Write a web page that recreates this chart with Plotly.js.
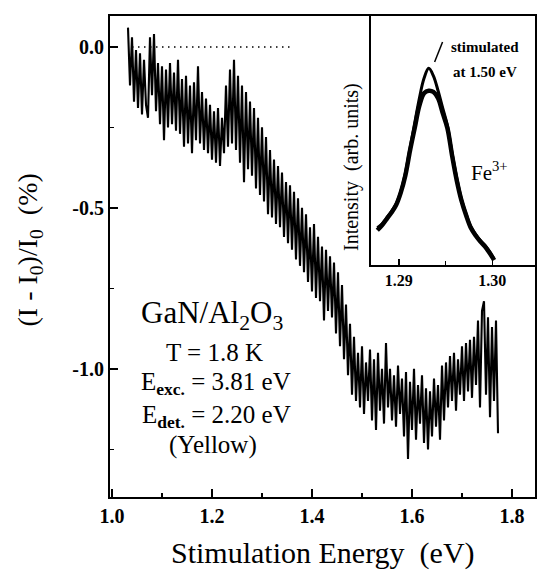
<!DOCTYPE html>
<html>
<head>
<meta charset="utf-8">
<script src="https://cdn.plot.ly/plotly-3.0.1.min.js"></script>
<style>html,body{margin:0;padding:0;background:#fff;}#chart{width:537px;height:575px;}</style>
</head>
<body>
<div id="chart"></div>
<script>
// Main trace: stimulation energy (eV) vs (I - I0)/I0 (%)
const stimEnergy = [
  1.032,1.036,1.040,1.044,1.048,1.052,1.056,1.060,1.064,1.068,
  1.072,1.076,1.080,1.084,1.088,1.092,1.096,1.100,1.104,1.108,
  1.112,1.116,1.120,1.124,1.128,1.132,1.136,1.140,1.144,1.148,
  1.152,1.156,1.160,1.164,1.168,1.172,1.176,1.180,1.184,1.188,
  1.192,1.196,1.200,1.204,1.208,1.212,1.216,1.220,1.224,1.228,
  1.232,1.236,1.240,1.244,1.248,1.252,1.256,1.260,1.264,1.268,
  1.272,1.276,1.280,1.284,1.288,1.292,1.296,1.300,1.304,1.308,
  1.312,1.316,1.320,1.324,1.328,1.332,1.336,1.340,1.344,1.348,
  1.352,1.356,1.360,1.364,1.368,1.372,1.376,1.380,1.384,1.388,
  1.392,1.396,1.400,1.404,1.408,1.412,1.416,1.420,1.424,1.428,
  1.432,1.436,1.440,1.444,1.448,1.452,1.456,1.460,1.464,1.468,
  1.472,1.476,1.480,1.484,1.488,1.492,1.496,1.500,1.504,1.508,
  1.512,1.516,1.520,1.524,1.528,1.532,1.536,1.540,1.544,1.548,
  1.552,1.556,1.560,1.564,1.568,1.572,1.576,1.580,1.584,1.588,
  1.592,1.596,1.600,1.604,1.608,1.612,1.616,1.620,1.624,1.628,
  1.632,1.636,1.640,1.644,1.648,1.652,1.656,1.660,1.664,1.668,
  1.672,1.676,1.680,1.684,1.688,1.692,1.696,1.700,1.704,1.708,
  1.712,1.716,1.720,1.724,1.728,1.732,1.736,1.740,1.744,1.748,
  1.752,1.756,1.760,1.764,1.768,1.772
];
const relChange = [
  0.06,-0.12,0.03,-0.17,-0.01,-0.19,-0.02,-0.21,-0.04,-0.18,
  -0.22,0.03,-0.15,0.04,-0.20,-0.05,-0.24,-0.06,-0.29,-0.07,
  -0.25,-0.05,-0.24,-0.08,-0.26,-0.04,-0.27,-0.10,-0.31,-0.09,
  -0.30,-0.12,-0.33,-0.11,-0.29,-0.06,-0.30,-0.14,-0.32,-0.16,
  -0.33,-0.18,-0.35,-0.20,-0.36,-0.19,-0.37,-0.22,-0.33,-0.12,
  -0.31,-0.07,-0.30,-0.04,-0.32,-0.09,-0.36,-0.12,-0.42,-0.14,
  -0.38,-0.17,-0.40,-0.19,-0.44,-0.22,-0.46,-0.25,-0.48,-0.28,
  -0.52,-0.32,-0.53,-0.35,-0.55,-0.37,-0.56,-0.39,-0.59,-0.42,
  -0.61,-0.43,-0.63,-0.45,-0.66,-0.47,-0.68,-0.50,-0.70,-0.52,
  -0.73,-0.56,-0.76,-0.55,-0.78,-0.59,-0.79,-0.62,-0.85,-0.63,
  -0.82,-0.65,-0.84,-0.67,-0.89,-0.70,-0.93,-0.74,-0.97,-0.80,
  -1.02,-0.86,-1.08,-0.90,-1.10,-0.95,-1.12,-0.93,-1.14,-0.98,
  -1.10,-0.94,-1.16,-0.97,-1.19,-0.95,-1.13,-1.00,-1.17,-0.92,
  -1.12,-1.00,-1.16,-1.02,-1.18,-0.99,-1.14,-1.03,-1.21,-1.01,
  -1.28,-1.04,-1.19,-1.00,-1.22,-1.05,-1.17,-1.02,-1.23,-1.06,
  -1.25,-1.07,-1.21,-1.03,-1.18,-1.05,-1.22,-0.99,-1.16,-0.98,
  -1.12,-0.96,-1.10,-0.95,-1.13,-0.97,-1.08,-0.93,-1.10,-0.92,
  -1.07,-0.91,-1.09,-0.90,-1.05,-0.85,-1.12,-0.82,-0.79,-1.08,
  -0.84,-1.15,-0.87,-1.10,-0.85,-1.20
];

// Inset: Fe3+ emission spectra (arb. units)
const insetEnergy = [
  1.2877,1.2882,1.2887,1.2892,1.2897,1.2902,1.2907,1.2912,1.2917,1.2922,
  1.2927,1.2932,1.2937,1.2942,1.2947,1.2952,1.2957,1.2962,1.2967,1.2972,
  1.2977,1.2982,1.2987,1.2992,1.2997,1.3002
];
const insetPlain = [
  0.14,0.16,0.185,0.21,0.24,0.29,0.36,0.46,0.55,0.64,
  0.69,0.70,0.695,0.67,0.61,0.55,0.44,0.34,0.26,0.20,
  0.15,0.12,0.096,0.076,0.05,0.02
];
const insetStimulated = [
  0.15,0.165,0.19,0.215,0.245,0.295,0.37,0.47,0.57,0.67,
  0.75,0.79,0.76,0.70,0.63,0.56,0.45,0.35,0.265,0.205,
  0.155,0.125,0.10,0.08,0.055,0.025
];

const xTickVals = [1.0, 1.2, 1.4, 1.6, 1.8];
const xTickText = ['1.0', '1.2', '1.4', '1.6', '1.8'];
const yTickVals = [0, -0.5, -1.0];
const yTickText = ['0.0', '-0.5', '-1.0'];
const insetTickVals = [1.29, 1.30];
const insetTickText = ['1.29', '1.30'];

const SERIF = '"Liberation Serif", "Times New Roman", serif';

const traces = [
  {x: stimEnergy, y: relChange, type: 'scatter', mode: 'lines',
   line: {color: '#000', width: 2.1}, xaxis: 'x', yaxis: 'y', hoverinfo: 'skip'},
  {x: insetEnergy, y: insetPlain, type: 'scatter', mode: 'lines',
   line: {color: '#000', width: 4.5, shape: 'spline'}, xaxis: 'x2', yaxis: 'y2'},
  {x: insetEnergy, y: insetStimulated, type: 'scatter', mode: 'lines',
   line: {color: '#000', width: 3, shape: 'spline'}, xaxis: 'x2', yaxis: 'y2'}
];

const layout = {
  width: 537, height: 575,
  margin: {l: 110, r: 2, t: 16, b: 78},
  paper_bgcolor: '#fff', plot_bgcolor: '#fff',
  showlegend: false,
  font: {family: SERIF, color: '#000'},
  xaxis: {
    domain: [0, 1], range: [0.996, 1.846],
    tickmode: 'array', tickvals: xTickVals, ticktext: xTickText,
    ticks: 'inside', ticklen: 8, tickwidth: 2, tickcolor: '#000',
    minor: {tickvals: [1.1, 1.3, 1.5, 1.7], ticks: 'inside', ticklen: 4, tickwidth: 1.5, tickcolor: '#000'},
    showline: true, linewidth: 2, linecolor: '#000', mirror: true,
    showgrid: false, zeroline: false,
    tickfont: {family: SERIF, size: 20, weight: 'bold'}
  },
  yaxis: {
    domain: [0, 1], range: [-1.398, 0.096],
    tickmode: 'array', tickvals: yTickVals, ticktext: yTickText,
    ticks: 'inside', ticklen: 8, tickwidth: 2, tickcolor: '#000',
    minor: {tickvals: [-0.25, -0.75, -1.25], ticks: 'inside', ticklen: 4, tickwidth: 1.5, tickcolor: '#000'},
    showline: true, linewidth: 2, linecolor: '#000', mirror: true,
    showgrid: false, zeroline: false,
    tickfont: {family: SERIF, size: 20, weight: 'bold'}
  },
  xaxis2: {
    domain: [0.614, 1], anchor: 'y2', range: [1.28702, 1.30457],
    tickmode: 'array', tickvals: insetTickVals, ticktext: insetTickText,
    ticks: 'inside', ticklen: 6, tickwidth: 1.5, tickcolor: '#000',
    minor: {tickvals: [1.295], ticks: 'inside', ticklen: 4, tickwidth: 1.5, tickcolor: '#000'},
    showline: true, linewidth: 2, linecolor: '#000',
    showgrid: false, zeroline: false,
    tickfont: {family: SERIF, size: 16, weight: 'bold'}
  },
  yaxis2: {
    domain: [0.482, 1], anchor: 'x2', range: [0, 1],
    showticklabels: false, ticks: '',
    showline: true, linewidth: 2, linecolor: '#000',
    showgrid: false, zeroline: false
  },
  shapes: [
    {type: 'line', xref: 'x', yref: 'y', x0: 1.04, x1: 1.356, y0: 0, y1: 0,
     line: {color: '#000', width: 1.5, dash: '1.5px,4.5px'}},
    {type: 'line', xref: 'x2', yref: 'y2', x0: 1.29468, y0: 0.896, x1: 1.29383, y1: 0.815,
     line: {color: '#000', width: 1.5}}
  ],
  annotations: [
    {xref: 'paper', yref: 'paper', x: -0.19, y: 0.513, textangle: -90, showarrow: false,
     xanchor: 'center', yanchor: 'middle',
     text: '(I - I<sub>0</sub>)/I<sub>0</sub>\u00a0\u00a0(%)', font: {family: SERIF, size: 28}},
    {xref: 'paper', yref: 'paper', x: 0.5, y: -0.116, showarrow: false,
     xanchor: 'center', yanchor: 'middle',
     text: 'Stimulation Energy\u00a0\u00a0(eV)', font: {family: SERIF, size: 30}},
    {xref: 'paper', yref: 'paper', x: 0.24, y: 0.378, showarrow: false,
     xanchor: 'center', yanchor: 'middle',
     text: 'GaN/Al<sub>2</sub>O<sub>3</sub>', font: {family: SERIF, size: 31}},
    {xref: 'paper', yref: 'paper', x: 0.247, y: 0.301, showarrow: false,
     xanchor: 'center', yanchor: 'middle',
     text: 'T = 1.8 K', font: {family: SERIF, size: 25}},
    {xref: 'paper', yref: 'paper', x: 0.25, y: 0.237, showarrow: false,
     xanchor: 'center', yanchor: 'middle',
     text: 'E<sub><b>exc.</b></sub> = 3.81 eV', font: {family: SERIF, size: 25}},
    {xref: 'paper', yref: 'paper', x: 0.25, y: 0.168, showarrow: false,
     xanchor: 'center', yanchor: 'middle',
     text: 'E<sub><b>det.</b></sub> = 2.20 eV', font: {family: SERIF, size: 25}},
    {xref: 'paper', yref: 'paper', x: 0.242, y: 0.108, showarrow: false,
     xanchor: 'center', yanchor: 'middle',
     text: '(Yellow)', font: {family: SERIF, size: 25}},
    {xref: 'paper', yref: 'paper', x: 0.567, y: 0.686, textangle: -90, showarrow: false,
     xanchor: 'center', yanchor: 'middle',
     text: 'Intensity\u00a0\u00a0(arb. units)', font: {family: SERIF, size: 20}},
    {xref: 'paper', yref: 'paper', x: 0.882, y: 0.936, showarrow: false,
     xanchor: 'center', yanchor: 'middle',
     text: '<b>stimulated</b>', font: {family: SERIF, size: 15}},
    {xref: 'paper', yref: 'paper', x: 0.882, y: 0.884, showarrow: false,
     xanchor: 'center', yanchor: 'middle',
     text: '<b>at 1.50 eV</b>', font: {family: SERIF, size: 15}},
    {xref: 'paper', yref: 'paper', x: 0.894, y: 0.676, showarrow: false,
     xanchor: 'center', yanchor: 'middle',
     text: 'Fe<sup>3+</sup>', font: {family: SERIF, size: 21}}
  ]
};

Plotly.newPlot('chart', traces, layout, {displayModeBar: false, staticPlot: true});
</script>
</body>
</html>
